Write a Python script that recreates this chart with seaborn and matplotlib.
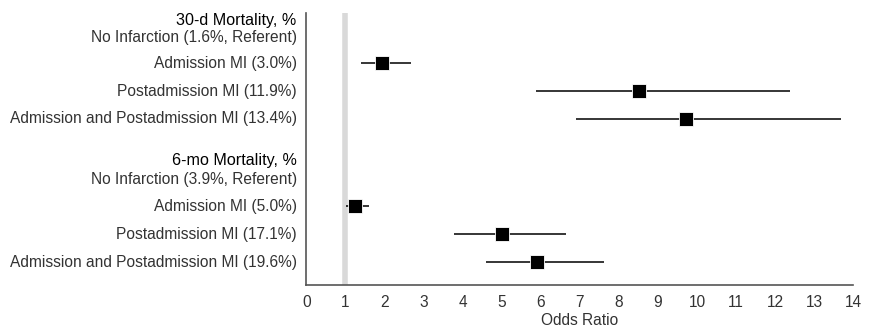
import numpy as np
import pandas as pd
import seaborn as sns
import matplotlib.pyplot as plt

# --- data ---
groups = ['30-d Mortality, %', '6-mo Mortality, %']
referents = ['No Infarction (1.6%, Referent)', 'No Infarction (3.9%, Referent)']
labels_30d = ['Admission MI (3.0%)', 'Postadmission MI (11.9%)',
              'Admission and Postadmission MI (13.4%)']
labels_6mo = ['Admission MI (5.0%)', 'Postadmission MI (17.1%)',
              'Admission and Postadmission MI (19.6%)']
or_30d = [1.94, 8.52, 9.72]
lo_30d = [1.41, 5.88, 6.91]
hi_30d = [2.68, 12.37, 13.69]
or_6mo = [1.25, 5.00, 5.91]
lo_6mo = [1.02, 3.78, 4.59]
hi_6mo = [1.60, 6.65, 7.63]

# --- layout (row positions, top to bottom) ---
title_pos = [0.275, 5.25]
ref_pos = [0.88, 5.93]
row_pos_30d = [1.79, 2.79, 3.78]
row_pos_6mo = [6.89, 7.89, 8.89]

df = pd.DataFrame({
    'label': labels_30d + labels_6mo,
    'OR': or_30d + or_6mo,
    'lo': lo_30d + lo_6mo,
    'hi': hi_30d + hi_6mo,
    'y': row_pos_30d + row_pos_6mo,
})

sns.set_style('white')
plt.rcParams['font.family'] = ['Liberation Sans', 'DejaVu Sans']

fig = plt.figure(figsize=(8.7, 3.3), dpi=100)
ax = fig.add_axes([0.352, 0.136, 0.629, 0.825])

txt_color = '#333333'
fs = 11.2

# reference line at OR = 1
ax.axvline(1, color='#d9d9d9', lw=4, zorder=0)

# confidence intervals
ax.hlines(df['y'], df['lo'], df['hi'], color='black', lw=1.1, zorder=1)

# point estimates
sns.scatterplot(data=df, x='OR', y='y', marker='s', s=110, color='black',
                edgecolor='white', linewidth=0.6, zorder=2, ax=ax, legend=False)

ax.set_xlim(0, 14)
ax.set_ylim(9.71, 0)
ax.set_xticks(range(0, 15))
ax.set_yticks([])
ax.tick_params(axis='x', direction='out', length=4, width=1, color='#555555',
               labelsize=fs, labelcolor=txt_color, pad=3)
ax.set_xlabel('Odds Ratio', fontsize=fs, color=txt_color, labelpad=2.5)
ax.set_ylabel('')

for side in ['top', 'right']:
    ax.spines[side].set_visible(False)
for side in ['left', 'bottom']:
    ax.spines[side].set_color('#555555')
    ax.spines[side].set_linewidth(1.2)

# row labels to the left of the axis
trans = ax.get_yaxis_transform()
xoff = -0.0174
for g, r, ty, ry in zip(groups, referents, title_pos, ref_pos):
    ax.text(xoff, ty, g, transform=trans, ha='right', va='center',
            fontsize=fs + 0.4, color='black')
    ax.text(xoff, ry, r, transform=trans, ha='right', va='center',
            fontsize=fs, color=txt_color)
for lab, y in zip(df['label'], df['y']):
    ax.text(xoff, y, lab, transform=trans, ha='right', va='center',
            fontsize=fs, color=txt_color)

fig.savefig('out.png', dpi=100)
